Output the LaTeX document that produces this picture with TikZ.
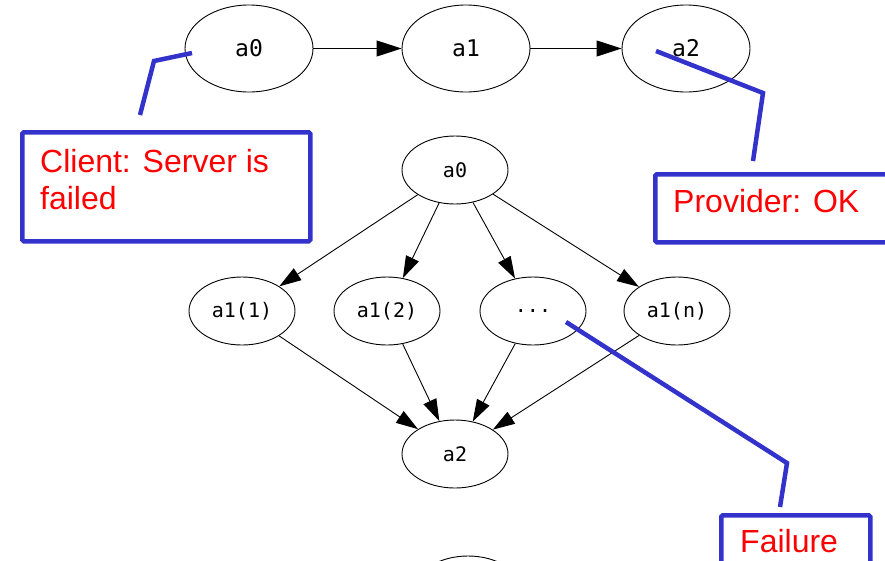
\documentclass[tikz,border=0pt]{standalone}
\usepackage{fontspec}
\setmainfont{Liberation Sans}
\newfontfamily\gvfont{DejaVu Sans Mono}
\usetikzlibrary{shapes.geometric,arrows.meta}
\definecolor{callblue}{RGB}{51,51,204}
\definecolor{notered}{RGB}{255,0,0}

\begin{document}
\begin{tikzpicture}[x=1pt,y=-1pt,
  gvbig/.style={draw, ellipse, line width=0.9pt, minimum width=128pt,
    minimum height=87pt, inner sep=0pt, font=\gvfont\fontsize{23}{23}\selectfont},
  gvsmall/.style={draw, ellipse, line width=0.9pt, minimum width=106pt,
    minimum height=68pt, inner sep=0pt, font=\gvfont\fontsize{20}{20}\selectfont},
  bigedge/.style={line width=0.9pt, -{Triangle[length=25pt,width=16pt]}},
  smalledge/.style={line width=0.9pt, -{Triangle[length=22pt,width=14pt]}},
  callline/.style={draw=callblue, line width=4.5pt},
  callbox/.style={draw=callblue, line width=4.5pt, rounded corners=1.5pt, fill=white},
  note/.style={text=notered, font=\fontsize{32}{37}\selectfont, align=left, inner sep=0pt},
]
\useasboundingbox (0,0) rectangle (885,560);
\clip (0,0) rectangle (885,560);

% --- linear chain ---
\node[gvbig] (t0) at (249,48.5) {a0};
\node[gvbig] (t1) at (466,48.5) {a1};
\node[gvbig] (t2) at (686,48.5) {a2};
\draw[bigedge] (t0) -- (t1);
\draw[bigedge] (t1) -- (t2);

% --- fan-out / fan-in graph ---
\node[gvsmall] (b0)  at (455,170) {a0};
\node[gvsmall] (b11) at (242,311) {a1(1)};
\node[gvsmall] (b12) at (387,311) {a1(2)};
\node[gvsmall] (bdots) at (533,311) {...};
\node[gvsmall] (b1n) at (677,311) {a1(n)};
\node[gvsmall] (b2)  at (455,454) {a2};
\node[gvsmall] (b3)  at (468,590) {};

\foreach \m in {b11,b12,bdots,b1n} {
  \draw[smalledge] (b0) -- (\m);
  \draw[smalledge] (\m) -- (b2);
}

% --- callouts ---
\coordinate (cs) at (192,53);
\coordinate (cb) at (154,61);
\coordinate (ce) at (140,115);
\draw[callline] (cs) -- (cb) -- (ce);
\node[callbox, anchor=north west, minimum width=288pt, minimum height=109pt] (client) at (20,130) {};
\node[note, anchor=north west] (clienttxt) at (40,149.5) {Client: Server is\\failed};

\coordinate (ps) at (656,51);
\coordinate (pb) at (763,93);
\coordinate (pe) at (753,161);
\draw[callline] (ps) -- (pb) -- (pe);
\node[callbox, anchor=north west, minimum width=260pt, minimum height=68pt] (provider) at (653,172) {};
\node[note, anchor=base west] (providertxt) at (673,212) {Provider: OK};

\coordinate (fs) at (566,322);
\coordinate (fb) at (787,463);
\coordinate (fe) at (780,507);
\draw[callline] (fs) -- (fb) -- (fe);
\node[callbox, anchor=north west, minimum width=149pt, minimum height=70pt] (failure) at (719,513) {};
\node[note, anchor=base west] (failuretxt) at (740,552) {Failure};
\end{tikzpicture}
\end{document}
